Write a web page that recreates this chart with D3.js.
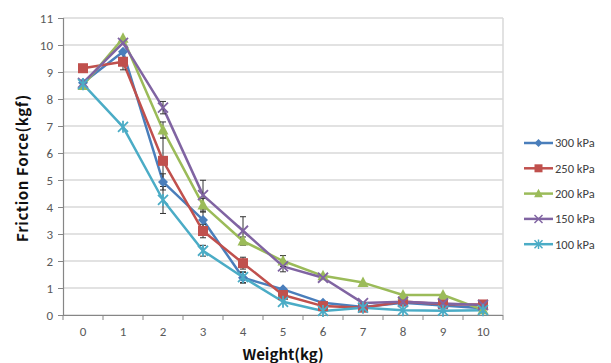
<!DOCTYPE html>
<html>
<head>
<meta charset="utf-8">
<script src="https://cdn.jsdelivr.net/npm/d3@7"></script>
<style>
  body { margin: 0; background: #fff; }
  text { font-family: Calibri, "Liberation Sans", "Open Sans", sans-serif; }
</style>
</head>
<body>
<svg class="plot" width="611" height="363"></svg>
<script>
// chart data
var weights = [0, 1, 2, 3, 4, 5, 6, 7, 8, 9, 10];
var seriesNames = ["300 kPa", "250 kPa", "200 kPa", "150 kPa", "100 kPa"];
var yTicks = [0, 1, 2, 3, 4, 5, 6, 7, 8, 9, 10, 11];

var kpa300 = [8.6, 9.75, 4.93, 3.52, 1.38, 0.95, 0.45, 0.3, 0.45, 0.35, 0.25];
var kpa250 = [9.14, 9.38, 5.71, 3.11, 1.92, 0.74, 0.33, 0.27, 0.5, 0.4, 0.39];
var kpa200 = [8.5, 10.25, 6.85, 4.07, 2.74, 2.0, 1.45, 1.2, 0.74, 0.74, 0.19];
var kpa150 = [8.6, 10.08, 7.68, 4.44, 3.12, 1.8, 1.38, 0.44, 0.49, 0.43, 0.37];
var kpa100 = [8.55, 6.97, 4.26, 2.38, 1.4, 0.49, 0.15, 0.27, 0.18, 0.16, 0.18];

// error bar half-widths (symmetric)
var err300 = [0, 0, 0.3, 0.3, 0.2, 0, 0, 0, 0, 0, 0];
var err250 = [0, 0.3, 0.85, 0.25, 0.22, 0, 0, 0, 0, 0, 0];
var err200 = [0, 0, 0.3, 0.25, 0.15, 0.2, 0, 0, 0, 0, 0];
var err150 = [0, 0, 0.23, 0.55, 0.52, 0.2, 0, 0, 0, 0, 0];
var err100 = [0, 0, 0.5, 0.2, 0.2, 0, 0, 0, 0, 0, 0];

var colors = ["#4a7ebb", "#c0504d", "#9bbb59", "#8064a2", "#4bacc6"];
var markers = ["diamond", "square", "triangle", "cross", "asterisk"];

var series = seriesNames.map(function(n, i) {
  var vals = [kpa300, kpa250, kpa200, kpa150, kpa100][i];
  var errs = [err300, err250, err200, err150, err100][i];
  return {name: n, color: colors[i], marker: markers[i],
    values: weights.map(function(w, j) { return {w: w, v: vals[j], e: errs[j]}; })};
});

var svg = d3.select(".plot"),
    margin = {top: 18, left: 63},
    width = 440,
    height = 297;

var x = d3.scaleBand().domain(weights).range([0, width]),
    y = d3.scaleLinear().domain([0, 11]).range([height, 0]);

var g = svg.append("g")
    .attr("transform", "translate(" + margin.left + "," + margin.top + ")");

// gridlines
g.selectAll(".grid")
    .data(yTicks)
    .enter().append("line")
    .attr("x1", 0).attr("x2", width)
    .attr("y1", function(d) { return y(d); })
    .attr("y2", function(d) { return y(d); })
    .attr("stroke", "#d9d9d9")
    .attr("stroke-width", 1.5);

// right border of plot area
g.append("line")
    .attr("x1", width).attr("x2", width)
    .attr("y1", 0).attr("y2", height)
    .attr("stroke", "#d9d9d9").attr("stroke-width", 1.5);

// axes
var yAxis = g.append("g")
    .call(d3.axisLeft(y).tickValues(yTicks).tickSize(5).tickPadding(5));
var xAxis = g.append("g")
    .attr("transform", "translate(0," + height + ")")
    .call(d3.axisBottom(x).tickSize(0).tickPadding(12));

[yAxis, xAxis].forEach(function(a) {
  a.select(".domain").attr("stroke", "#868686").attr("stroke-width", 1.2);
  a.selectAll(".tick line").attr("stroke", "#868686");
  a.selectAll("text").attr("fill", "#595959").style("font-size", "13px")
    .style("font-family", "Calibri, 'Liberation Sans', sans-serif");
});
yAxis.select(".domain").attr("d", "M0.5,0V" + height);
xAxis.select(".domain").attr("d", "M0," + 0.5 + "H" + width);

// x tick marks between categories
g.selectAll(".xtick")
    .data(d3.range(weights.length + 1))
    .enter().append("line")
    .attr("x1", function(d) { return d * x.step(); })
    .attr("x2", function(d) { return d * x.step(); })
    .attr("y1", height).attr("y2", height + 5)
    .attr("stroke", "#868686");

var cx = function(d) { return x(d.w) + x.bandwidth() / 2; };

// lines
var line = d3.line().x(cx).y(function(d) { return y(d.v); });

g.selectAll(".series-line")
    .data(series)
    .enter().append("path")
    .attr("d", function(s) { return line(s.values); })
    .attr("fill", "none")
    .attr("stroke", function(s) { return s.color; })
    .attr("stroke-width", 2.5)
    .attr("stroke-linejoin", "round");

// error bars
series.forEach(function(s) {
  var eb = g.selectAll(null)
      .data(s.values.filter(function(d) { return d.e > 0; }))
      .enter().append("g")
      .attr("stroke", "#333").attr("stroke-width", 1);
  eb.append("line")
      .attr("x1", cx).attr("x2", cx)
      .attr("y1", function(d) { return y(d.v + d.e); })
      .attr("y2", function(d) { return y(d.v - d.e); });
  eb.append("line")
      .attr("x1", function(d) { return cx(d) - 3; }).attr("x2", function(d) { return cx(d) + 3; })
      .attr("y1", function(d) { return y(d.v + d.e); })
      .attr("y2", function(d) { return y(d.v + d.e); });
  eb.append("line")
      .attr("x1", function(d) { return cx(d) - 3; }).attr("x2", function(d) { return cx(d) + 3; })
      .attr("y1", function(d) { return y(d.v - d.e); })
      .attr("y2", function(d) { return y(d.v - d.e); });
});

// marker drawing
function drawMarker(sel, type, color) {
  if (type == "diamond") {
    sel.append("path").attr("d", "M0,-5L5,0L0,5L-5,0Z").attr("fill", color);
  } else if (type == "square") {
    sel.append("rect").attr("x", -5).attr("y", -5).attr("width", 10).attr("height", 10).attr("fill", color);
  } else if (type == "triangle") {
    sel.append("path").attr("d", "M0,-6L5.5,4.5L-5.5,4.5Z").attr("fill", color);
  } else if (type == "cross") {
    sel.append("path").attr("d", "M-5,-5L5,5M-5,5L5,-5").attr("stroke", color).attr("stroke-width", 1.8);
  } else {
    sel.append("path").attr("d", "M-5,-5L5,5M-5,5L5,-5M0,-6V6").attr("stroke", color).attr("stroke-width", 1.8);
  }
}

series.forEach(function(s) {
  var pts = g.selectAll(null)
      .data(s.values)
      .enter().append("g")
      .attr("transform", function(d) { return "translate(" + cx(d) + "," + y(d.v) + ")"; });
  drawMarker(pts, s.marker, s.color);
});

// axis titles
svg.append("text")
    .attr("x", 283).attr("y", 360)
    .attr("text-anchor", "middle")
    .style("font-family", "'Noto Sans CJK JP', sans-serif")
    .style("font-weight", "bold").style("font-size", "15px")
    .attr("fill", "#111")
    .text("Weight(kg)");

svg.append("text")
    .attr("transform", "translate(28,168)rotate(-90)")
    .attr("text-anchor", "middle")
    .style("font-family", "'Noto Sans CJK JP', sans-serif")
    .style("font-weight", "bold").style("font-size", "15px")
    .style("letter-spacing", "0.6px")
    .attr("fill", "#111")
    .text("Friction Force(kgf)");

// legend
var legend = svg.selectAll(".legend")
    .data(series)
    .enter().append("g")
    .attr("transform", function(s, i) { return "translate(524," + (143 + i * 25.3) + ")"; });

legend.append("line")
    .attr("x1", 0).attr("x2", 29)
    .attr("stroke", function(s) { return s.color; })
    .attr("stroke-width", 2.5);

legend.each(function(s) {
  var m = d3.select(this).append("g").attr("transform", "translate(14.5,0)");
  drawMarker(m, s.marker, s.color);
  m.attr("transform", "translate(14.5,0) scale(0.8)");
});

legend.append("text")
    .attr("x", 31).attr("y", 0).attr("dy", "0.35em")
    .attr("fill", "#404040")
    .style("font-size", "12.5px")
    .text(function(s) { return s.name; });
</script>
</body>
</html>
